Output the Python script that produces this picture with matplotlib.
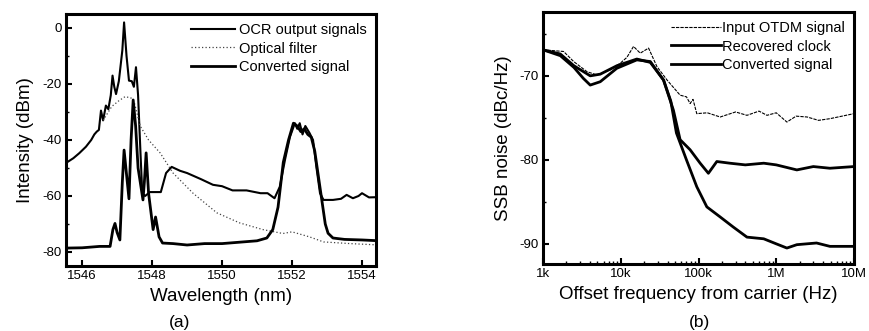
import matplotlib
matplotlib.use("Agg")
import matplotlib.pyplot as plt
from matplotlib.ticker import FixedLocator, NullFormatter, MultipleLocator, LogLocator

plt.rcParams['font.family'] = ['Liberation Sans', 'DejaVu Sans']
plt.rcParams['axes.unicode_minus'] = False

# ---------------- Panel (a) data ----------------
ocr_wl = [1545.54, 1545.75, 1545.92, 1546.11, 1546.26, 1546.35, 1546.42, 1546.48, 1546.54, 1546.6,
          1546.68, 1546.75, 1546.82, 1546.87, 1546.92, 1546.97, 1547.05, 1547.15, 1547.2, 1547.27,
          1547.34, 1547.42, 1547.48, 1547.54, 1547.6, 1547.67, 1547.72, 1547.8, 1547.94, 1548.1,
          1548.25, 1548.4, 1548.56, 1548.8, 1549.0, 1549.4, 1549.74, 1550.0, 1550.3, 1550.7,
          1551.1, 1551.3, 1551.5, 1551.65, 1551.8, 1551.94, 1552.08, 1552.15, 1552.22, 1552.3,
          1552.38, 1552.5, 1552.6, 1552.7, 1552.8, 1552.9, 1553.17, 1553.4, 1553.56, 1553.74,
          1553.9, 1554.0, 1554.2, 1554.5]
ocr_db = [-48.2, -46.5, -44.7, -42.4, -40, -38, -37, -36.4, -29.5, -33,
          -27.7, -29, -24, -17, -21, -23.6, -19, -8, 2, -10,
          -18.8, -19, -21, -14, -24, -45, -59, -60, -58.6, -58.6,
          -58.6, -51.8, -49.6, -51, -51.8, -54, -56, -56.5, -58, -58,
          -59, -59, -60.8, -56.7, -47, -38.9, -34, -36, -34, -38,
          -35, -37.5, -40, -50, -59, -61.4, -61.4, -61, -59.6, -60.8,
          -60, -59, -60.5, -60.4]

filt_wl = [1546.6, 1546.85, 1547.05, 1547.23, 1547.4, 1547.5, 1547.66, 1547.9, 1548.23, 1548.6,
           1549.17, 1549.85, 1550.5, 1551.17, 1551.74, 1552.0, 1552.5, 1552.9, 1553.66, 1554.5]
filt_db = [-33, -28, -26, -24.5, -25, -27, -35, -40, -44.6, -51.8,
           -59, -66, -69.6, -72, -73.4, -72.8, -74.6, -76.4, -77, -77.5]

conv_wl = [1545.54, 1546.0, 1546.5, 1546.8, 1546.88, 1546.94, 1547.0, 1547.08, 1547.15, 1547.2,
           1547.34, 1547.4, 1547.46, 1547.53, 1547.6, 1547.74, 1547.78, 1547.83, 1547.9, 1548.03,
           1548.1, 1548.2, 1548.3, 1548.6, 1549.0, 1549.5, 1550.0, 1550.5, 1551.0, 1551.28,
           1551.45, 1551.6, 1551.75, 1551.9, 1552.04, 1552.15, 1552.25, 1552.35, 1552.45, 1552.55,
           1552.65, 1552.8, 1552.95, 1553.03, 1553.17, 1553.5, 1554.0, 1554.5]
conv_db = [-78.6, -78.5, -78, -78, -72, -69.8, -73, -75.7, -55, -43.6,
           -61, -40, -25.7, -35, -50, -61.4, -55, -44.6, -59, -72,
           -67.5, -74.6, -76.8, -77, -77.5, -77, -77, -76.5, -76, -75,
           -72, -64, -48, -40, -34, -35, -37, -36, -38, -39,
           -44, -57, -70, -73.3, -75, -75.5, -75.7, -76]

a_xticks = [1546, 1548, 1550, 1552, 1554]
a_yticks = [0, -20, -40, -60, -80]
a_labels = ["OCR output signals", "Optical filter", "Converted signal"]

# ---------------- Panel (b) data ----------------
f_in = [1e3, 1.84e3, 2.48e3, 3.67e3, 4.94e3, 7.3e3, 9.85e3, 12e3, 14.6e3, 17.8e3,
        22.8e3, 29.2e3, 39.4e3, 58e3, 70e3, 78e3, 85e3, 95e3, 130e3, 190e3,
        300e3, 420e3, 600e3, 760e3, 1e6, 1.37e6, 1.8e6, 2.5e6, 3.5e6, 4.9e6, 7e6, 1e7]
in_db = [-66.9, -67.1, -68.3, -69.5, -69.9, -69.3, -68.5, -67.8, -66.5, -67.3,
         -66.7, -68.9, -70.5, -72.3, -72.5, -73.3, -72.8, -74.5, -74.4, -74.9,
         -74.3, -74.7, -74.2, -74.7, -74.4, -75.5, -74.8, -74.9, -75.3, -75.1, -74.8, -74.5]

f_rc = [1e3, 1.67e3, 2.5e3, 3.3e3, 4.05e3, 5.45e3, 8.9e3, 16.1e3, 24e3, 35.5e3,
        47.6e3, 58e3, 78e3, 105e3, 134e3, 172e3, 253e3, 400e3, 690e3, 1e6,
        1.84e6, 3e6, 4.9e6, 1e7]
rc_db = [-66.9, -67.6, -69, -70.3, -71.1, -70.7, -69.1, -68.1, -68.3, -70.5,
         -74.1, -77.6, -78.8, -80.4, -81.6, -80.2, -80.4, -80.6, -80.4, -80.6,
         -81.2, -80.8, -81, -80.8]

f_cv = [1e3, 1.67e3, 2.5e3, 4.05e3, 5.45e3, 8.9e3, 16.1e3, 24e3, 35.5e3, 44e3,
        52e3, 70e3, 95e3, 128e3, 190e3, 280e3, 420e3, 690e3, 1e6, 1.37e6,
        1.84e6, 3.3e6, 4.9e6, 1e7]
cv_db = [-66.9, -67.4, -68.8, -70.0, -69.8, -68.8, -68.0, -68.4, -70.5, -73,
         -76.8, -80, -83.2, -85.6, -86.8, -88, -89.2, -89.4, -90, -90.5,
         -90.1, -89.9, -90.3, -90.3]

b_xticks = [1e3, 1e4, 1e5, 1e6, 1e7]
b_xticklabels = ["1k", "10k", "100k", "1M", "10M"]
b_yticks = [-70, -80, -90]
b_labels = ["Input OTDM signal", "Recovered clock", "Converted signal"]

# ---------------- Figure ----------------
fig = plt.figure(figsize=(8.69, 3.31), dpi=100)
ax1 = fig.add_axes([66/869, 1-266/331, 310/869, 252/331])
ax2 = fig.add_axes([543/869, 1-264/331, 311/869, 252/331])

for ax in (ax1, ax2):
    for s in ax.spines.values():
        s.set_linewidth(2.2)
    ax.tick_params(direction='in', width=1.5, length=4, labelsize=9.5, pad=3)
    ax.tick_params(which='minor', direction='in', width=1.0, length=2)

l1, = ax1.plot(ocr_wl, ocr_db, color='black', lw=1.5)
l2, = ax1.plot(filt_wl, filt_db, color='#444444', lw=0.9, ls=(0, (1, 1.8)))
l3, = ax1.plot(conv_wl, conv_db, color='black', lw=2.0)
ax1.set_xlim(1545.54, 1554.4)
ax1.set_ylim(-85, 5)
ax1.set_xticks(a_xticks)
ax1.set_yticks(a_yticks)
ax1.yaxis.set_minor_locator(MultipleLocator(10))
ax1.set_xlabel("Wavelength (nm)", fontsize=13.5, labelpad=4)
ax1.set_ylabel("Intensity (dBm)", fontsize=13.5, labelpad=6.5)
ax1.legend([l1, l2, l3], a_labels, loc='upper right', frameon=False, fontsize=10.5,
           handlelength=3.0, handletextpad=0.3, labelspacing=0.33,
           borderaxespad=0.2, bbox_to_anchor=(1.0, 1.0))
fig.text(180/869, 1-322/331, "(a)", ha='center', va='center', fontsize=12.5)

m1, = ax2.plot(f_in, in_db, color='black', lw=0.8, ls=(0, (3, 1)))
m2, = ax2.plot(f_rc, rc_db, color='black', lw=2.0)
m3, = ax2.plot(f_cv, cv_db, color='black', lw=2.0)
ax2.set_xscale('log')
ax2.set_xlim(1e3, 1e7)
ax2.set_ylim(-92.4, -62.4)
ax2.xaxis.set_major_locator(FixedLocator(b_xticks))
ax2.set_xticklabels(b_xticklabels)
ax2.xaxis.set_minor_locator(LogLocator(base=10, subs=range(2, 10)))
ax2.xaxis.set_minor_formatter(NullFormatter())
ax2.set_yticks(b_yticks)
ax2.yaxis.set_minor_locator(MultipleLocator(5))
ax2.set_xlabel("Offset frequency from carrier (Hz)", fontsize=13.5, labelpad=4)
ax2.set_ylabel("SSB noise (dBc/Hz)", fontsize=13.5, labelpad=5.5)
ax2.legend([m1, m2, m3], b_labels, loc='upper right', frameon=False, fontsize=10.5,
           handlelength=3.4, handletextpad=0.1, labelspacing=0.33,
           borderaxespad=0.2, bbox_to_anchor=(1.0, 1.0))
fig.text(700/869, 1-322/331, "(b)", ha='center', va='center', fontsize=12.5)

fig.savefig("out.png", dpi=100, facecolor='white')
